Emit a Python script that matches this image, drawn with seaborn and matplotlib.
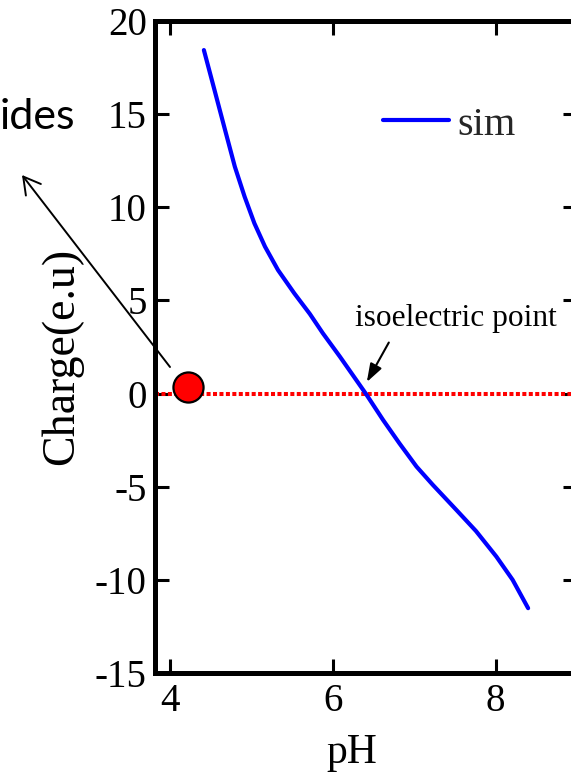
import matplotlib
matplotlib.use("Agg")
import matplotlib.pyplot as plt
import seaborn as sns
import pandas as pd
from matplotlib.patches import FancyArrowPatch

# ---- data ----
ph = [4.42, 4.55, 4.68, 4.80, 4.92, 5.04, 5.17, 5.33, 5.53, 5.72,
      5.88, 6.09, 6.29, 6.41, 6.62, 6.82, 7.03, 7.23, 7.52, 7.76,
      8.01, 8.21, 8.40]
charge = [18.44, 16.30, 14.15, 12.18, 10.57, 9.14, 7.89, 6.63, 5.38, 4.28,
          3.24, 1.98, 0.73, -0.02, -1.42, -2.67, -3.92, -4.90, -6.25, -7.38,
          -8.75, -10.00, -11.52]
series_label = "sim"
zero_level = 0.0
point_x = [4.22]
point_y = [0.37]
x_ticks = [4, 6, 8]
y_ticks = [-15, -10, -5, 0, 5, 10, 15, 20]
iso_tip = (6.42, 0.62)
iso_tail = (6.69, 2.74)
iso_text_pos = (6.27, 3.63)

df = pd.DataFrame({"pH": ph, "Charge": charge})

sns.set_style("ticks")
plt.rcParams["font.family"] = ["Liberation Serif", "DejaVu Serif"]

fig = plt.figure(figsize=(5.71, 7.72), dpi=100)
ax = fig.add_axes([155 / 571, 99 / 772, 422 / 571, 652 / 772])

sns.lineplot(data=df, x="pH", y="Charge", ax=ax, color="blue", lw=3,
             sort=False, label=series_label)
ax.axhline(zero_level, color="red", lw=2.9, dashes=(1.0, 0.6), zorder=1)
sns.scatterplot(x=point_x, y=point_y, ax=ax, s=470, color="red",
                edgecolor="black", linewidth=1.6, zorder=5, clip_on=False)

ax.set_xlim(3.82, 9.0)
ax.set_ylim(-15, 20)
ax.set_xticks(x_ticks)
ax.set_yticks(y_ticks)
ax.set_xticklabels([str(t) for t in x_ticks])
ax.set_yticklabels([str(t) for t in y_ticks])
ax.tick_params(direction="in", length=10, width=2.2, labelsize=28,
               top=True, right=True, color="black", labelcolor="black")
ax.tick_params(axis="x", pad=7)
ax.tick_params(axis="y", pad=6)
for s in ax.spines.values():
    s.set_linewidth(3.6)
    s.set_color("black")
    s.set_visible(True)

ax.set_xlabel("pH", fontsize=30, color="black")
ax.set_ylabel("Charge(e.u)", fontsize=33, color="black")
ax.xaxis.set_label_coords((352 - 155) / 422, -0.093)
ax.yaxis.set_label_coords(-0.17, 0.485)

leg = ax.legend(loc="center left", bbox_to_anchor=(383 / 571, 1 - 125 / 772),
                bbox_transform=fig.transFigure, frameon=False, fontsize=29,
                handlelength=1.65, handletextpad=0.2, borderpad=0,
                borderaxespad=0)

ax.text(iso_text_pos[0], iso_text_pos[1], "isoelectric point", fontsize=22.6,
        ha="left", va="baseline", color="black")
ax.annotate("", xy=iso_tip, xytext=iso_tail,
            arrowprops=dict(arrowstyle="-|>,head_length=1.1,head_width=0.38",
                            color="black", lw=1.5, mutation_scale=10,
                            shrinkA=0, shrinkB=0))

fig.text(0.0, 1 - 129 / 772, "ides", fontsize=31, family=["Lato", "DejaVu Sans"],
         ha="left", va="baseline", color="black")
arr = FancyArrowPatch((170 / 571, 1 - 367 / 772), (22 / 571, 1 - 175 / 772),
                      transform=fig.transFigure,
                      arrowstyle="->,head_length=1.2,head_width=0.68",
                      mutation_scale=10, lw=1.4, color="black",
                      shrinkA=0, shrinkB=0)
fig.add_artist(arr)

fig.savefig("out.png", dpi=100)
